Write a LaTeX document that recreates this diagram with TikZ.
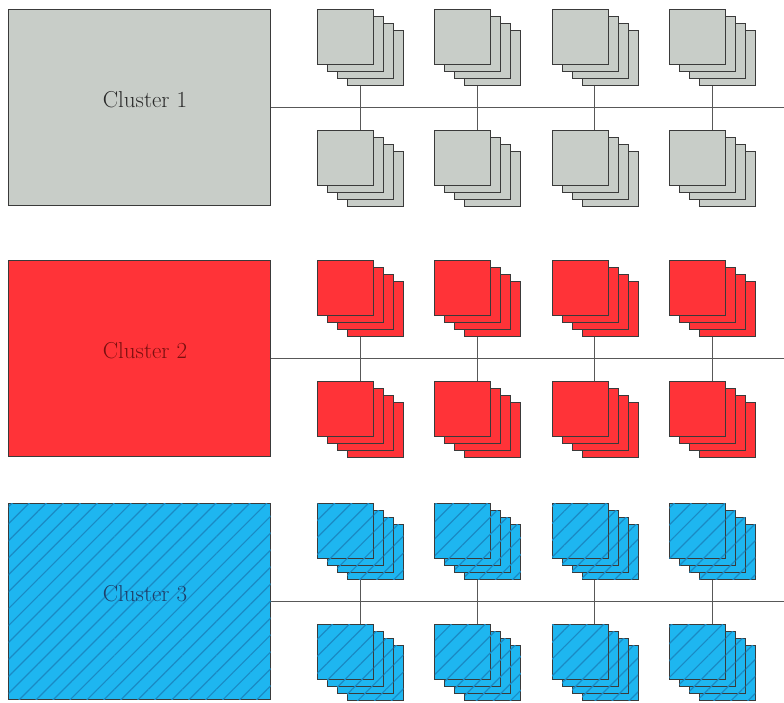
\documentclass[tikz,border=0pt]{standalone}
\usetikzlibrary{patterns.meta}
\definecolor{grayfill}{HTML}{C8CDC8}
\definecolor{redfill}{HTML}{FF3338}
\definecolor{bluefill}{HTML}{1EB6F0}
\definecolor{bluehatch}{HTML}{1A8AC4}
\definecolor{edge}{HTML}{3A3A3A}
\definecolor{txtone}{HTML}{2A2A2A}
\definecolor{txttwo}{HTML}{7A1010}
\definecolor{txtthree}{HTML}{1E3F6A}
\begin{document}
\begin{tikzpicture}[x=1pt,y=-1pt,
  box/.style={draw=edge, line width=1pt, minimum width=262pt, minimum height=196pt, inner sep=0pt, anchor=north west},
  sq/.style={draw=edge, line width=0.9pt, minimum width=56pt, minimum height=55pt, inner sep=0pt, anchor=north west},
  wire/.style={draw=edge!85, line width=0.8pt},
  lab/.style={font=\fontsize{23}{27}\selectfont, inner sep=0pt},
  c1/.style={fill=grayfill},
  c2/.style={fill=redfill},
  c3/.style={fill=bluefill, postaction={pattern={Lines[angle=45,distance=12pt,line width=1.2pt]}, pattern color=bluehatch}},
]
\useasboundingbox (0,0) rectangle (784,702);
\foreach \k/\T/\tc in {1/9/txtone, 2/260/txttwo, 3/503/txtthree} {
  \node[box, c\k] (C\k) at (8,\T) {};
  \node[lab, text=\tc] (L\k) at (145,\T+91) {Cluster \k};
  \coordinate (E\k) at (784,\T+98);
  \draw[wire] (C\k.east |- E\k) -- (E\k);
  \foreach \j in {0,...,3} {
    \pgfmathsetmacro\X{317+117.3*\j}
    \foreach \r/\dy in {t/0, b/121} {
      \foreach \m in {3,2,1,0} {
        \node[sq, c\k] (S\k-\j-\r\m) at (\X+10*\m,\T+\dy+7*\m) {};
      }
    }
    \coordinate (V\k-\j) at (\X+43,\T);
    \draw[wire] (V\k-\j |- S\k-\j-t3.south) -- (V\k-\j |- S\k-\j-b0.north);
  }
}
\end{tikzpicture}
\end{document}
